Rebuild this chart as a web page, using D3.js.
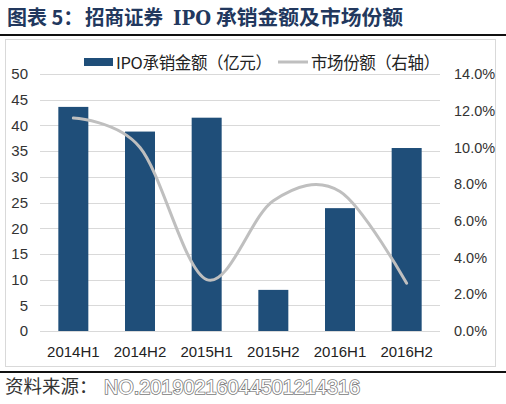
<!DOCTYPE html>
<html><head><meta charset="utf-8">
<script src="https://cdn.jsdelivr.net/npm/d3@7"></script>
<style>body{margin:0;background:#fff;}svg{display:block;}</style>
</head><body>
<svg id="c" width="506" height="404"></svg>
<script>
const categories = ["2014H1","2014H2","2015H1","2015H2","2016H1","2016H2"];
const ipoAmount = [43.6, 38.8, 41.5, 8.0, 23.9, 35.6];
const marketShare = [11.6, 10.0, 2.8, 7.1, 7.6, 2.6];
const leftTicks = [0,5,10,15,20,25,30,35,40,45,50];
const rightTicks = [0,2,4,6,8,10,12,14];
const seriesNames = ["IPO承销金额（亿元）","市场份额（右轴）"];
const titleParts = ["图表 5：", "招商证券", "IPO", "承销金额及市场份额"];
const sourceText = "资料来源：";
const watermark = "NO.20190216044501214316";

const svg = d3.select("#c");
const font = "'Liberation Sans', Arial, 'Noto Sans CJK SC', sans-serif";
const cjk = "'Noto Sans CJK SC', sans-serif";
const L = 40, R = 440, T = 74, B = 331;

// title
const titlePos = [[7, 0], [85, 78], [173, 38], [216, 187]];
titleParts.forEach((t, i) => {
  const el = svg.append("text").attr("x", titlePos[i][0]).attr("y", 25)
    .attr("font-family", i === 2 ? "'DejaVu Serif', serif" : cjk).attr("font-weight", "bold").attr("font-size", 20)
    .attr("fill", "#22385e").text(t);
  if (titlePos[i][1]) el.attr("textLength", titlePos[i][1]).attr("lengthAdjust", "spacingAndGlyphs");
});
svg.append("rect").attr("x", 0).attr("y", 34).attr("width", 506).attr("height", 2).attr("fill", "#111");
// chart border
svg.append("rect").attr("x", 5.5).attr("y", 39.5).attr("width", 490).attr("height", 327)
  .attr("fill", "none").attr("stroke", "#d9d9d9");
svg.append("rect").attr("x", 0).attr("y", 371).attr("width", 506).attr("height", 2).attr("fill", "#111");

const x = d3.scaleBand().domain(categories).range([L, R]).paddingInner(0.55).paddingOuter(0.275);
const y = d3.scaleLinear().domain([0, 50]).range([B, T]);
const y2 = d3.scaleLinear().domain([0, 14]).range([B, T]);

// gridlines
svg.append("g").selectAll("line").data(leftTicks).join("line")
  .attr("x1", L).attr("x2", R).attr("y1", d => Math.round(y(d)) + 0.5).attr("y2", d => Math.round(y(d)) + 0.5)
  .attr("stroke", "#d9d9d9").attr("stroke-width", 1);

// left axis
const la = svg.append("g").attr("transform", `translate(28,0)`)
  .call(d3.axisLeft(y).tickValues(leftTicks).tickSize(0).tickPadding(0));
la.select(".domain").remove();
la.selectAll("text").attr("font-family", font).attr("font-size", 15).attr("fill", "#333");

// right axis
const ra = svg.append("g").attr("transform", `translate(454,0)`)
  .call(d3.axisRight(y2).tickValues(rightTicks).tickSize(0).tickPadding(0).tickFormat(d => d.toFixed(1) + "%"));
ra.select(".domain").remove();
ra.selectAll("text").attr("font-family", font).attr("font-size", 14.5).attr("fill", "#333");

// x axis
const xa = svg.append("g").attr("transform", `translate(0,${B})`)
  .call(d3.axisBottom(x).tickSize(0).tickPadding(15));
xa.select(".domain").remove();
xa.selectAll("text").attr("font-family", font).attr("font-size", 15).attr("fill", "#222");

// bars
svg.append("g").selectAll("rect").data(ipoAmount).join("rect")
  .attr("x", (d, i) => x(categories[i])).attr("width", x.bandwidth())
  .attr("y", d => y(d)).attr("height", d => B - y(d)).attr("fill", "#1f4e79");

// line
const line = d3.line().x((d, i) => x(categories[i]) + x.bandwidth() / 2).y(d => y2(d)).curve(d3.curveCatmullRom.alpha(0));
svg.append("path").datum(marketShare).attr("d", line)
  .attr("fill", "none").attr("stroke", "#bfbfbf").attr("stroke-width", 3).attr("stroke-linecap", "round");

// legend
svg.append("rect").attr("x", 84).attr("y", 58).attr("width", 29).attr("height", 8).attr("fill", "#1f4e79");
svg.append("text").attr("x", 116).attr("y", 68.5).attr("font-family", cjk).attr("font-size", 16.5).attr("fill", "#222")
  .attr("textLength", 156).attr("lengthAdjust", "spacing").text(seriesNames[0]);
svg.append("line").attr("x1", 278).attr("x2", 308).attr("y1", 62).attr("y2", 62).attr("stroke", "#bfbfbf").attr("stroke-width", 3);
svg.append("text").attr("x", 311).attr("y", 68.5).attr("font-family", cjk).attr("font-size", 16.5).attr("fill", "#222")
  .attr("textLength", 129).attr("lengthAdjust", "spacing").text(seriesNames[1]);

// source
svg.append("text").attr("x", 5).attr("y", 393).attr("font-family", cjk).attr("font-size", 18.5).attr("fill", "#333").text(sourceText);
svg.append("text").attr("x", 104).attr("y", 394).attr("font-family", font).attr("font-size", 20)
  .attr("fill", "#fff").attr("stroke", "#7a7a7a").attr("stroke-width", 1.6).attr("paint-order", "stroke")
  .attr("textLength", 256).attr("lengthAdjust", "spacingAndGlyphs").text(watermark);
</script>
</body></html>
